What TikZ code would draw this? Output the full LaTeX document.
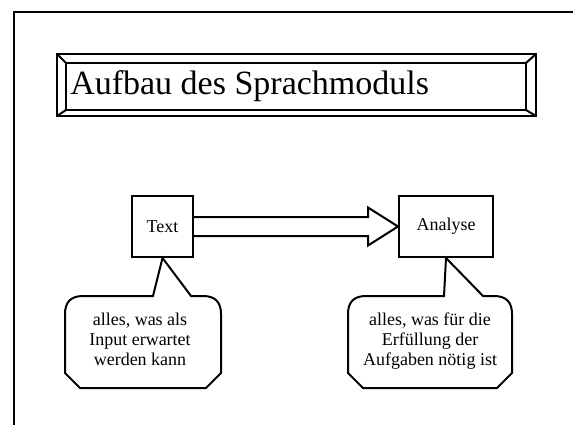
\documentclass[tikz,border=0pt]{standalone}
\usepackage{fontspec}
\setmainfont{Liberation Serif}
\usetikzlibrary{calc}
\begin{document}
\begin{tikzpicture}[x=0.75pt,y=-0.75pt,line join=miter,
  frame/.style={draw,line width=1.5pt},
  box/.style={draw,line width=1.5pt,inner sep=0pt,font=\fontsize{13.5pt}{15pt}\selectfont},
  calltext/.style={align=center,inner sep=0pt,font=\fontsize{13.5pt}{15pt}\selectfont},
  callout/.style={draw,line width=1.5pt,fill=white}]
\useasboundingbox (0,0) rectangle (573,424);
% outer slide frame
\draw[frame] (14,440) -- (14,12) -- (590,12);
% title frame
\draw[frame] (57,54) rectangle (536,116);
\draw[frame] (66,63) rectangle (526,110);
\draw[frame] (57,54) -- (66,63) (536,54) -- (526,63) (57,116) -- (66,110) (536,116) -- (526,110);
\node[anchor=base west,inner sep=0pt,font=\fontsize{25.5pt}{30pt}\selectfont] (title) at (70,95) {Aufbau des Sprachmoduls};
% boxes
\node[box,minimum width=45.75pt,minimum height=45.75pt] (tb) at (162.5,226.5) {Text};
\node[box,minimum width=70.5pt,minimum height=45.75pt] (an) at (446,226.5) {Analyse};
% block arrow
\draw[frame] ($(tb.east)+(0,-9.5)$) -- ($(an.west)+(-30,-9.5)$) -- ($(an.west)+(-30,-19)$)
  -- (an.west) -- ($(an.west)+(-30,19)$) -- ($(an.west)+(-30,9.5)$) -- ($(tb.east)+(0,9.5)$);
% callout 1
\coordinate (c1tip) at (tb.south);
\draw[callout] (153,296) -- (c1tip) -- (191,296) -- (203,296) .. controls (215,296) and (221,302) .. (221,314)
  -- (221,373) -- (206,388) -- (80,388) -- (65,373) -- (65,314) .. controls (65,302) and (71,296) .. (83,296) -- cycle;
\node[calltext,anchor=base] (c1) at (140,365) {alles, was als\\Input erwartet\\werden kann};
% callout 2
\coordinate (c2tip) at (an.south);
\draw[callout] (444,296) -- (c2tip) -- (483,296) -- (494,296) .. controls (506,296) and (512,302) .. (512,314)
  -- (512,373) -- (497,388) -- (363,388) -- (348,373) -- (348,314) .. controls (348,302) and (354,296) .. (366,296) -- cycle;
\node[calltext,anchor=base] (c2) at (430,365) {alles, was für die\\Erfüllung der\\Aufgaben nötig ist};
\end{tikzpicture}
\end{document}
